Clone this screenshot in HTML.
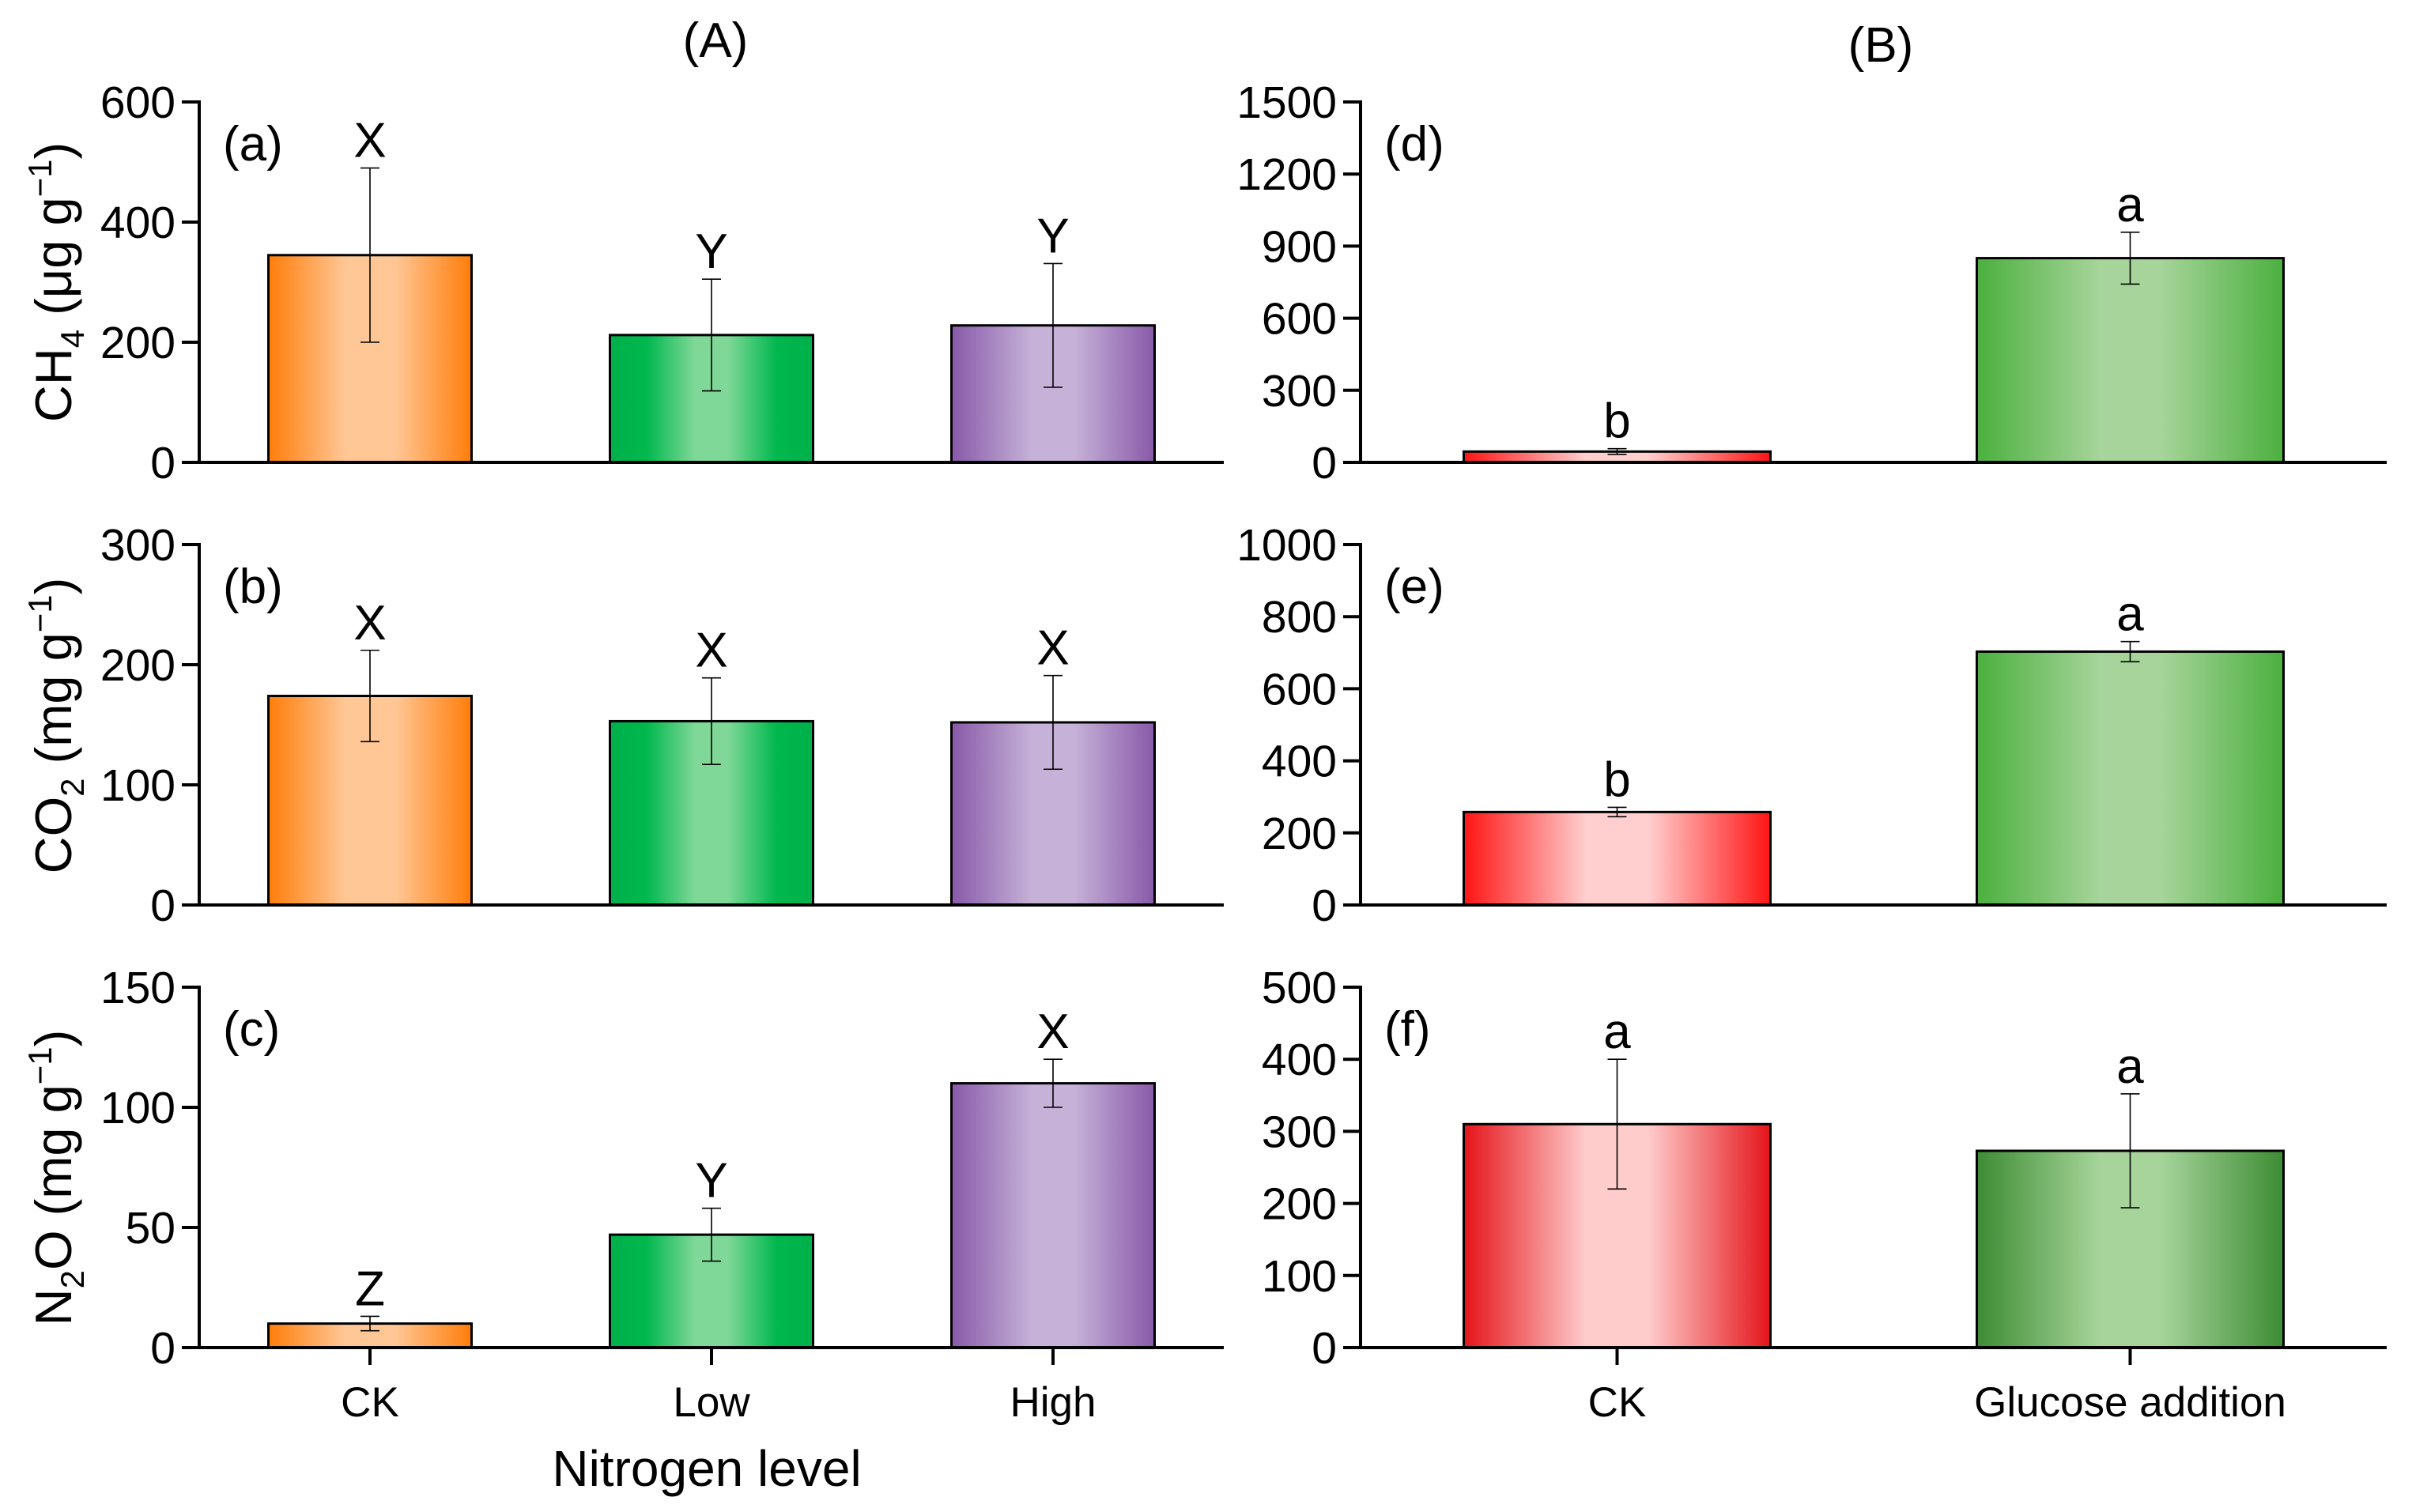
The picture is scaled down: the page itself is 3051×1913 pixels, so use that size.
<!DOCTYPE html>
<html><head><meta charset="utf-8"><style>
html,body{margin:0;padding:0;background:#fff}
svg{display:block;font-family:"Liberation Sans",Arial,sans-serif}
</style></head><body>
<svg id="chart" width="3051" height="1913" viewBox="0 0 3051 1913" xmlns="http://www.w3.org/2000/svg">
<defs>
<linearGradient id="gOrange" x1="0" x2="1" y1="0" y2="0"><stop offset="0" stop-color="#ff7d0a"/><stop offset="0.38" stop-color="#ffc796"/><stop offset="0.62" stop-color="#ffc796"/><stop offset="1" stop-color="#ff7d0a"/></linearGradient>
<linearGradient id="gGreen" x1="0" x2="1" y1="0" y2="0"><stop offset="0" stop-color="#00b04a"/><stop offset="0.18" stop-color="#00b84e"/><stop offset="0.42" stop-color="#7fd898"/><stop offset="0.58" stop-color="#7fd898"/><stop offset="0.82" stop-color="#00b84e"/><stop offset="1" stop-color="#00b04a"/></linearGradient>
<linearGradient id="gPurple" x1="0" x2="1" y1="0" y2="0"><stop offset="0" stop-color="#8859a8"/><stop offset="0.4" stop-color="#c6b2d8"/><stop offset="0.6" stop-color="#c6b2d8"/><stop offset="1" stop-color="#8859a8"/></linearGradient>
<linearGradient id="gRed" x1="0" x2="1" y1="0" y2="0"><stop offset="0" stop-color="#ff1414"/><stop offset="0.4" stop-color="#ffcfcf"/><stop offset="0.6" stop-color="#ffcfcf"/><stop offset="1" stop-color="#ff1414"/></linearGradient>
<linearGradient id="gGreenB" x1="0" x2="1" y1="0" y2="0"><stop offset="0" stop-color="#4bb03e"/><stop offset="0.4" stop-color="#a6d49a"/><stop offset="0.6" stop-color="#a6d49a"/><stop offset="1" stop-color="#4bb03e"/></linearGradient>
<linearGradient id="gRedF" x1="0" x2="1" y1="0" y2="0"><stop offset="0" stop-color="#e4141a"/><stop offset="0.4" stop-color="#ffcccc"/><stop offset="0.6" stop-color="#ffcccc"/><stop offset="1" stop-color="#e4141a"/></linearGradient>
<linearGradient id="gGreenF" x1="0" x2="1" y1="0" y2="0"><stop offset="0" stop-color="#3d8c34"/><stop offset="0.4" stop-color="#a6d49a"/><stop offset="0.6" stop-color="#a6d49a"/><stop offset="1" stop-color="#3d8c34"/></linearGradient>
</defs>
</svg>
<script>
// ---- data ----
const catsA = ["CK", "Low", "High"];
const catsB = ["CK", "Glucose addition"];
const ch4Values = [345, 212, 228];
const ch4Errors = [145, 93, 103];
const ch4Letters = ["X", "Y", "Y"];
const co2Values = [174, 153, 152];
const co2Errors = [38, 36, 39];
const co2Letters = ["X", "X", "X"];
const n2oValues = [10, 47, 110];
const n2oErrors = [3, 11, 10];
const n2oLetters = ["Z", "Y", "X"];
const ch4BValues = [45, 850];
const ch4BErrors = [12, 108];
const ch4BLetters = ["b", "a"];
const co2BValues = [258, 703];
const co2BErrors = [13, 28];
const co2BLetters = ["b", "a"];
const n2oBValues = [310, 273];
const n2oBErrors = [90, 79];
const n2oBLetters = ["a", "a"];
const ticksA1 = [0, 200, 400, 600];
const ticksA2 = [0, 100, 200, 300];
const ticksA3 = [0, 50, 100, 150];
const ticksB1 = [0, 300, 600, 900, 1200, 1500];
const ticksB2 = [0, 200, 400, 600, 800, 1000];
const ticksB3 = [0, 100, 200, 300, 400, 500];

const svg = document.getElementById('chart');
const NS = 'http://www.w3.org/2000/svg';
function mk(tag, attrs, parent) {
  const e = document.createElementNS(NS, tag);
  for (const k in attrs) e.setAttribute(k, attrs[k]);
  (parent || svg).appendChild(e);
  return e;
}
function txt(s, attrs, parent) { const t = mk('text', attrs, parent); t.textContent = s; return t; }

const rowTop = [129, 689, 1249];
const rowBot = [585, 1145, 1705];

function panel(cfg) {
  const g = mk('g', {});
  
  
  const top = rowTop[cfg.row], bot = rowBot[cfg.row];
  const ymax = cfg.ticks[cfg.ticks.length - 1];
  const y = v => bot - (v / ymax) * (bot - top);
  const n = cfg.cats.length;
  const band = (cfg.x1 - cfg.x0) / n;
  const xc = i => cfg.x0 + band * (i + 0.5);
  cfg.values.forEach((v, i) => {
    const r = mk('rect', {x: xc(i) - cfg.bw / 2, y: y(v), width: cfg.bw, height: bot - y(v), fill: 'url(#' + cfg.fills[i] + ')', stroke: '#000', 'stroke-width': 3}, g);
    
    
    const hi = y(v + cfg.errors[i]), lo = y(v - cfg.errors[i]);
    const eb = mk('path', {d: `M${xc(i)},${hi}V${lo}M${xc(i)-12},${hi}H${xc(i)+12}M${xc(i)-12},${lo}H${xc(i)+12}`, stroke: '#000', 'stroke-width': 1.6, fill: 'none'}, g);
    
    
    const lt = txt(cfg.letters[i], {x: xc(i), y: hi - 14, 'text-anchor': 'middle', 'font-size': 62}, g);
    
    
  });
  const ax = mk('path', {d: `M${cfg.x0},${top - 2}V${bot}H${cfg.x1}`, stroke: '#000', 'stroke-width': 4, fill: 'none'}, g);
  
  
  cfg.ticks.forEach(t => {
    mk('line', {x1: cfg.x0 - 22, x2: cfg.x0, y1: y(t), y2: y(t), stroke: '#000', 'stroke-width': 4}, g);
    const tl = txt(String(t), {x: cfg.x0 - 30, y: y(t) + 20, 'text-anchor': 'end', 'font-size': 57}, g);
    
    
  });
  const pl = txt(cfg.label, {x: cfg.x0 + 30, y: top + 74, 'font-size': 62}, g);
  
  
  if (cfg.row === 2) {
    cfg.cats.forEach((c, i) => {
      mk('line', {x1: xc(i), x2: xc(i), y1: bot, y2: bot + 22, stroke: '#000', 'stroke-width': 4}, g);
      const xl = txt(c, {x: xc(i), y: bot + 87, 'text-anchor': 'middle', 'font-size': 53}, g);
      
      
    });
  }
}
const A = {x0: 252, x1: 1548, bw: 257, cats: catsA, fills: ['gOrange', 'gGreen', 'gPurple']};
const B = {x0: 1721, x1: 3019, bw: 388, cats: catsB, fills: ['gRed', 'gGreenB']};
panel(Object.assign({}, A, {name: 'panel-a-ch4', row: 0, values: ch4Values, errors: ch4Errors, letters: ch4Letters, ticks: ticksA1, label: '(a)'}));
panel(Object.assign({}, A, {name: 'panel-b-co2', row: 1, values: co2Values, errors: co2Errors, letters: co2Letters, ticks: ticksA2, label: '(b)'}));
panel(Object.assign({}, A, {name: 'panel-c-n2o', row: 2, values: n2oValues, errors: n2oErrors, letters: n2oLetters, ticks: ticksA3, label: '(c)'}));
panel(Object.assign({}, B, {name: 'panel-d-ch4', row: 0, values: ch4BValues, errors: ch4BErrors, letters: ch4BLetters, ticks: ticksB1, label: '(d)'}));
panel(Object.assign({}, B, {name: 'panel-e-co2', row: 1, values: co2BValues, errors: co2BErrors, letters: co2BLetters, ticks: ticksB2, label: '(e)'}));
panel(Object.assign({}, B, {name: 'panel-f-n2o', row: 2, values: n2oBValues, errors: n2oBErrors, letters: n2oBLetters, ticks: ticksB3, label: '(f)', fills: ['gRedF', 'gGreenF']}));

const tA = txt('(A)', {x: 905, y: 72, 'text-anchor': 'middle', 'font-size': 62});


const tB = txt('(B)', {x: 2379, y: 78, 'text-anchor': 'middle', 'font-size': 62});


const xt = txt('Nitrogen level', {x: 894, y: 1880, 'text-anchor': 'middle', 'font-size': 64});



function ytitle(cx, cy, parts, name) {
  const t = mk('text', {transform: `translate(${cx},${cy}) rotate(-90)`, 'text-anchor': 'middle', 'font-size': 65});
  
  
  parts.forEach(p => {
    const s = mk('tspan', p[1] ? {'font-size': 42, dy: p[1]} : {}, t);
    s.textContent = p[0];
  });
}
ytitle(90, 357, [['CH'], ['4', 16], ['(μg g', -16], ['−1', -25], [')', 25]], 'y-axis-title-ch4');
ytitle(90, 918, [['CO'], ['2', 16], ['(mg g', -16], ['−1', -25], [')', 25]], 'y-axis-title-co2');
ytitle(90, 1490, [['N'], ['2', 16], ['O (mg g', -16], ['−1', -25], [')', 25]], 'y-axis-title-n2o');
svg.querySelectorAll('tspan').forEach(s => {
  if (/^[\(\)O]/.test(s.textContent)) { s.setAttribute('font-size', 65); if (s.textContent[0] === '(') s.textContent = '\u00a0' + s.textContent; }
});
</script>
</body></html>
